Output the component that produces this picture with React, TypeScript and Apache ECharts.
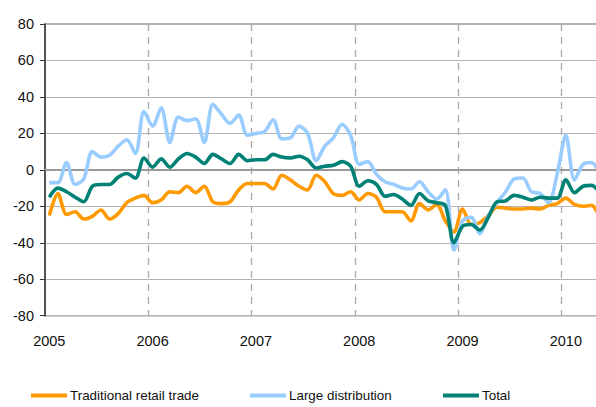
import React, { useEffect, useRef } from "react";
import * as echarts from "echarts";

const years = [2005, 2006, 2007, 2008, 2009, 2010];
const months = years.flatMap((y) =>
  ["01", "02", "03", "04", "05", "06", "07", "08", "09", "10", "11", "12"].map((m) => `${y}-${m}`)
).slice(0, 65);

const traditional = [
  -25, -13, -24.5, -23, -27, -25.5, -22, -27, -24, -18, -15.5, -14,
  -18, -16.5, -12, -12.5, -9, -12.5, -9, -17.5, -18.5, -17.5, -11, -7.5,
  -7.5, -7.5, -10.5, -3, -5.5, -9, -11, -3, -6.5, -13, -14, -12,
  -16.5, -13, -15, -23, -23, -23, -28, -18.5, -22, -19, -28, -34,
  -21.5, -30, -29, -25, -20.5, -21, -21.5, -21.5, -21, -21.5, -19.5, -18.5,
  -15.5, -19, -20, -19.5, -27,
];
const large = [
  -7, -7, 4, -8, -5, 10, 7, 8, 13, 16.5, 9, 32,
  24, 34, 15, 29, 27, 28, 15, 36, 30.5, 25.5, 30, 19,
  20, 21, 27.5, 17, 17.5, 24, 20, 5, 13, 17.5, 25, 19,
  3, 4.5, -2.5, -6.5, -8, -10, -10.5, -6.5, -12, -16, -11, -44,
  -28, -26, -35, -25, -18, -12, -5, -4.5, -12, -13, -18, -2,
  19, -5.5, 3, 4, -3,
];
const total = [
  -15, -10, -12, -15, -17.5, -9, -8, -8, -4, -2, -4.5, 6.5,
  1.5, 6, 1.5, 6, 9, 7, 3.5, 8.5, 6, 3.5, 8.5, 5,
  5.5, 5.5, 8.5, 7, 6.5, 7.5, 5.5, 1, 2, 2.5, 4.5, 2,
  -9, -6, -8, -14.5, -13.5, -16, -19.5, -13, -17, -18, -19.5, -40,
  -31, -30, -33, -26, -17.5, -17, -14, -15, -16.5, -15, -15.5, -15.5,
  -5.5, -12.5, -9, -8.5, -13,
];

const seriesNames = ["Traditional retail trade", "Large distribution", "Total"];
const seriesColors = ["#FF9900", "#99CCFF", "#008176"];
const legendLefts = [31, 250, 443];

export default function App() {
  const ref = useRef<HTMLDivElement>(null);
  useEffect(() => {
    document.body.style.margin = "0";
    if (!ref.current) return;
    const chart = echarts.init(ref.current, null, { renderer: "svg" });
    const font = "'Liberation Sans', Arial, sans-serif";
    const dataSets = [traditional, large, total];
    chart.setOption({
      animation: false,
      backgroundColor: "#ffffff",
      textStyle: { fontFamily: font },
      grid: {
        left: 45,
        top: 24,
        width: 559.6,
        height: 291.7,
        show: true,
        borderColor: "#999999",
        borderWidth: 1.5,
      },
      legend: seriesNames.map((n, i) => ({
        left: legendLefts[i],
        top: 389,
        data: [n],
        icon: "rect",
        itemWidth: 36,
        itemHeight: 4,
        padding: 0,
        selectedMode: false,
        textStyle: { fontSize: 13.4, color: "#111111", fontFamily: font, padding: [0, 0, 0, -2] },
      })),
      xAxis: {
        type: "category",
        data: months,
        boundaryGap: true,
        axisLine: { show: true, lineStyle: { color: "#999999", width: 2 } },
        axisTick: { show: false },
        axisLabel: {
          interval: (index: number) => index % 12 === 0,
          formatter: (v: string) => v.slice(0, 4),
          fontSize: 14.5,
          color: "#111111",
          margin: 18,
          fontFamily: font,
        },
        splitLine: {
          show: true,
          interval: (index: number) => index % 12 === 0 && index > 0,
          lineStyle: { color: "#aaaaaa", type: [7, 6], width: 1.3 },
        },
      },
      yAxis: {
        type: "value",
        min: -80,
        max: 80,
        interval: 20,
        axisLine: { show: true, lineStyle: { color: "#333333", width: 1.5 } },
        axisTick: { show: true, length: 5, lineStyle: { color: "#333333" } },
        axisLabel: { fontSize: 14.5, color: "#111111", margin: 11, fontFamily: font },
        splitLine: { show: true, lineStyle: { color: "#b3b3b3", width: 1 } },
      },
      series: seriesNames.map((n, i) => ({
        name: n,
        type: "line",
        data: dataSets[i],
        showSymbol: false,
        symbol: "none",
        smooth: 0.3,
        color: seriesColors[i],
        lineStyle: { width: 3.6, color: seriesColors[i] },
      })),
    });
    return () => chart.dispose();
  }, []);
  return (
    <div style={{ width: 596, height: 407, overflow: "hidden", position: "relative" }}>
      <div ref={ref} style={{ width: 612, height: 407 }} />
    </div>
  );
}
